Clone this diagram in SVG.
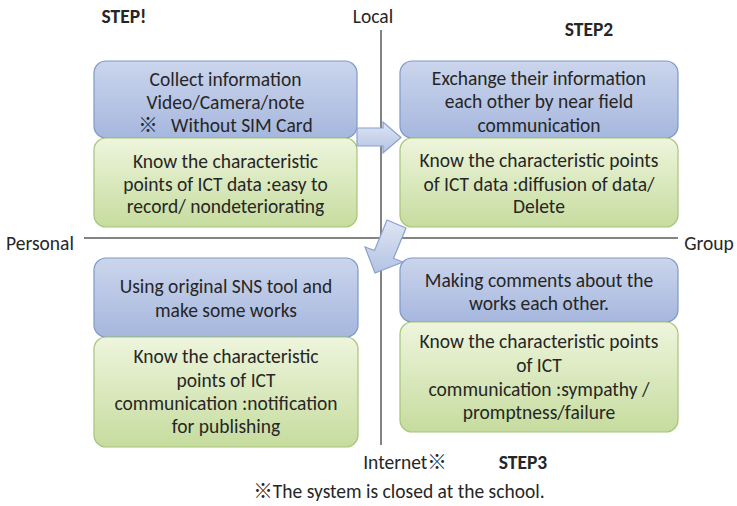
<svg xmlns="http://www.w3.org/2000/svg" width="737" height="506" viewBox="0 0 737 506">
<style>
text{font-family:Carlito,Lato,"Noto Sans CJK JP",sans-serif;font-size:19.5px;fill:#262626;text-anchor:middle;white-space:pre}
.b{font-weight:bold}
.axis{stroke:#5a5a5a;stroke-width:1.5}
.blue{fill:url(#gb);stroke:#7f99c8;stroke-width:1.2}
.green{fill:url(#gg);stroke:#a6c47a;stroke-width:1.2}
.arrow{fill:url(#ga);stroke:#8aa0cc;stroke-width:1.2}
</style>
<defs>
<linearGradient id="gb" x1="0" y1="0" x2="0" y2="1"><stop offset="0" stop-color="#cbd5ec"/><stop offset="1" stop-color="#a6b7de"/></linearGradient>
<linearGradient id="gg" x1="0" y1="0" x2="0" y2="1"><stop offset="0" stop-color="#eef5dd"/><stop offset="1" stop-color="#c6dc9e"/></linearGradient>
<linearGradient id="ga" x1="0" y1="0" x2="0" y2="1"><stop offset="0" stop-color="#dfe6f4"/><stop offset="1" stop-color="#b3c3e4"/></linearGradient>
</defs>
<rect width="737" height="506" fill="#fff"/>
<g id="axes">
<line class="axis" x1="381" y1="30" x2="381" y2="445"/>
<line class="axis" x1="84" y1="238" x2="678" y2="238"/>
</g>
<g id="labels">
<text class="b" x="124" y="23">STEP!</text>
<text x="373" y="23">Local</text>
<text class="b" x="589" y="36">STEP2</text>
<text x="40" y="250">Personal</text>
<text x="709" y="250">Group</text>
<text x="405" y="469">Internet※</text>
<text class="b" x="523" y="469">STEP3</text>
<text x="399" y="498">※The system is closed at the school.</text>
</g>
<g id="step1">
<rect class="blue" x="94" y="61" width="263" height="77" rx="12"/>
<rect class="green" x="94" y="138" width="263" height="89" rx="12"/>
<text x="225.5" y="86">Collect information</text>
<text x="225.5" y="109">Video/Camera/note</text>
<text x="225.5" y="132">※   Without SIM Card</text>
<text x="225.5" y="168">Know the characteristic</text>
<text x="225.5" y="191">points of ICT data :easy to</text>
<text x="225.5" y="213">record/ nondeteriorating</text>
</g>
<g id="step2">
<rect class="blue" x="400" y="61" width="278" height="77" rx="12"/>
<rect class="green" x="400" y="138" width="278" height="89" rx="12"/>
<text x="539" y="85">Exchange their information</text>
<text x="539" y="108">each other by near field</text>
<text x="539" y="132">communication</text>
<text x="539" y="167">Know the characteristic points</text>
<text x="539" y="191">of ICT data :diffusion of data/</text>
<text x="539" y="213">Delete</text>
</g>
<g id="step4">
<rect class="blue" x="94" y="258" width="264" height="79" rx="12"/>
<rect class="green" x="94" y="337" width="264" height="110" rx="12"/>
<text x="226" y="293">Using original SNS tool and</text>
<text x="226" y="317">make some works</text>
<text x="226" y="363">Know the characteristic</text>
<text x="226" y="387">points of ICT</text>
<text x="226" y="410">communication :notification</text>
<text x="226" y="433">for publishing</text>
</g>
<g id="step3">
<rect class="blue" x="400" y="258" width="278" height="64" rx="12"/>
<rect class="green" x="400" y="322" width="278" height="110" rx="12"/>
<text x="539" y="287">Making comments about the</text>
<text x="539" y="310">works each other.</text>
<text x="539" y="348">Know the characteristic points</text>
<text x="539" y="372">of ICT</text>
<text x="539" y="396">communication :sympathy /</text>
<text x="539" y="419">promptness/failure</text>
</g>
<g id="connectors">
<path class="arrow" d="M357,128 L383,128 L383,122 L401,137.5 L383,153 L383,146 L357,146 Z"/>
<path class="arrow" d="M387,220 L406,228 L393.5,258.5 L403,262 L375,273 L365,247 L374.5,250.5 Z"/>
</g>
</svg>
